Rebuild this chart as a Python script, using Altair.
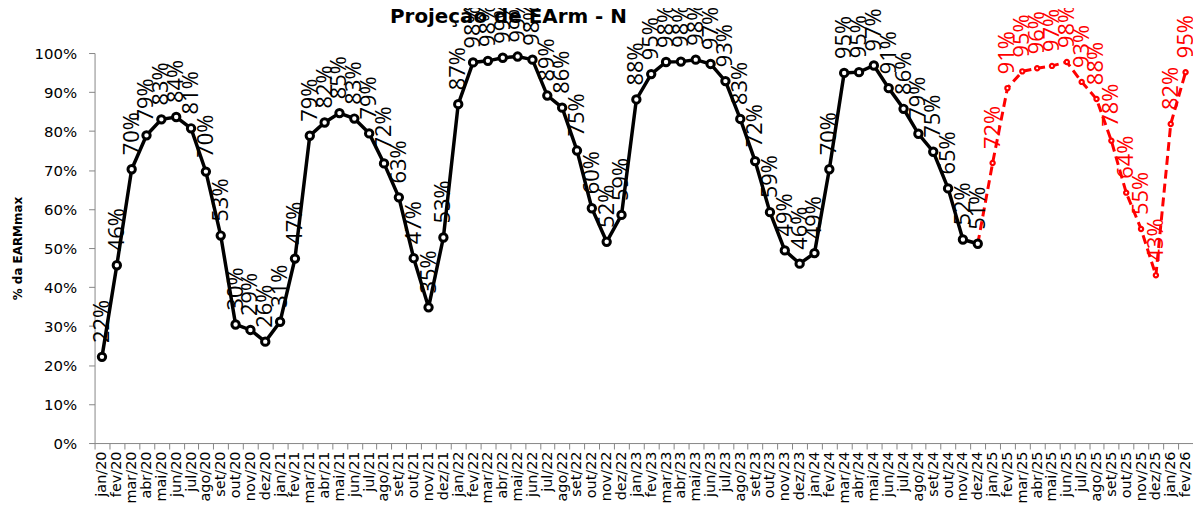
import altair as alt
import pandas as pd

MESES = ["jan", "fev", "mar", "abr", "mai", "jun", "jul", "ago", "set", "out", "nov", "dez"]
ANOS = ["20", "21", "22", "23", "24", "25", "26"]
months = [f"{m}/{a}" for a in ANOS for m in MESES][:74]  # jan/20 .. fev/26

# Verificado (jan/20 .. dez/24), % da EARMmax
hist_2020 = [22.1, 45.6, 70.2, 78.9, 83.0, 83.6, 80.7, 69.6, 53.2, 30.4, 29.0, 26.0]
hist_2021 = [31.1, 47.3, 78.8, 82.2, 84.6, 83.2, 79.4, 71.7, 63.0, 47.4, 34.8, 52.7]
hist_2022 = [86.9, 97.6, 98.0, 98.8, 99.1, 98.3, 89.1, 86.0, 75.0, 60.2, 51.6, 58.5]
hist_2023 = [88.1, 94.6, 97.7, 97.8, 98.3, 97.2, 92.8, 83.1, 72.3, 59.2, 49.4, 46.0]
hist_2024 = [48.7, 70.2, 94.9, 95.1, 96.8, 91.0, 85.7, 79.3, 74.7, 65.3, 52.2, 51.1]
historico = hist_2020 + hist_2021 + hist_2022 + hist_2023 + hist_2024

# Projeção (dez/24 .. fev/26)
projecao = [51.1, 71.8, 91.0, 95.3, 96.1, 96.7, 97.7, 92.6, 88.2, 77.5, 64.2, 54.9, 43.0, 81.8, 95.1]

y_ticks = [0, 10, 20, 30, 40, 50, 60, 70, 80, 90, 100]
TITLE = "Projeção de EArm - N"

rows = []
for i, v in enumerate(historico):
    rows.append({"mes": months[i], "v": v, "serie": "hist", "lab": True})
start = len(historico) - 1
for j, v in enumerate(projecao):
    rows.append({"mes": months[start + j], "v": v, "serie": "proj", "lab": j > 0})
df = pd.DataFrame(rows)

FONT = "DejaVu Sans"
LFONT = "Open Sans"

x_enc = alt.X(
    "mes:O",
    sort=months,
    scale=alt.Scale(type="band", paddingInner=0, paddingOuter=0),
    axis=alt.Axis(
        title=None,
        labelAngle=270,
        labelAlign="right",
        labelBaseline="middle",
        tickBand="extent",
        tickSize=6,
        labelPadding=2,
        labelFont=FONT,
        labelFontSize=14.5,
        labelColor="black",
        domainColor="#868686",
        tickColor="#868686",
        labelOverlap=False,
    ),
)
y_enc = alt.Y(
    "v:Q",
    scale=alt.Scale(domain=[0, 100], nice=False),
    axis=alt.Axis(
        title="% da EARMmax",
        titleFont=FONT,
        titleFontSize=12,
        titleFontWeight="bold",
        titleColor="black",
        titlePadding=10,
        values=y_ticks,
        labelExpr="datum.value + '%'",
        grid=False,
        tickSize=6,
        labelPadding=12,
        labelFont=FONT,
        labelFontSize=15,
        labelColor="black",
        domainColor="#868686",
        tickColor="#868686",
    ),
)

hist = df[df.serie == "hist"]
proj = df[df.serie == "proj"]

base_h = alt.Chart(hist).encode(x=x_enc, y=y_enc)
base_p = alt.Chart(proj).encode(x=x_enc, y=y_enc)

line_h = base_h.mark_line(color="black", strokeWidth=3.5)
pts_h = base_h.mark_point(filled=True, fill="white", stroke="black", strokeWidth=3, size=55, opacity=1)
line_p = base_p.mark_line(color="#FF0000", strokeWidth=3, strokeDash=[9, 5])
pts_p = base_p.transform_filter("datum.lab").mark_point(
    filled=True, fill="white", stroke="#FF0000", strokeWidth=2.2, size=18, opacity=1
)

lab_h = base_h.transform_calculate(t="format(datum.v/100, '.0%')").mark_text(
    angle=270, align="left", baseline="middle", dx=14, font=LFONT, fontSize=22, color="black"
).encode(text="t:N")
lab_p = base_p.transform_filter("datum.lab").transform_calculate(
    t="format(datum.v/100, '.0%')"
).mark_text(
    angle=270, align="left", baseline="middle", dx=14, font=LFONT, fontSize=22, color="#FF0000"
).encode(text="t:N")

title = alt.Chart(pd.DataFrame({"t": [TITLE]})).mark_text(
    font=FONT, fontSize=20, fontWeight="bold", color="black", align="center", baseline="alphabetic"
).encode(text="t:N", x=alt.value(416), y=alt.value(-30))

chart = (
    alt.layer(line_p, line_h, pts_h, pts_p, title, lab_h, lab_p)
    .properties(
        width=1104,
        height=392,
        autosize=alt.AutoSizeParams(type="none"),
        padding={"left": 87, "top": 44, "right": 0, "bottom": 64},
    )
    .configure_view(stroke=None)
)

chart.save("out.html", embed_options={"renderer": "svg", "actions": False})
